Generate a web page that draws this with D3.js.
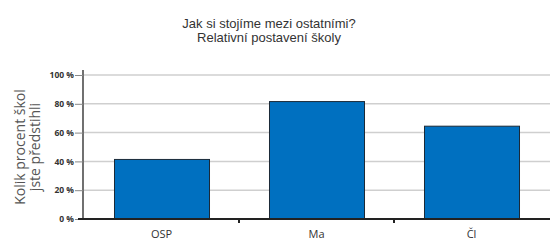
<!DOCTYPE html>
<html><head><meta charset="utf-8">
<script src="https://cdn.jsdelivr.net/npm/d3@7"></script>
<style>body{margin:0;background:#fff}svg{display:block}</style>
</head><body>
<svg id="c" width="550" height="240"></svg>
<script>
const categories = ["OSP", "Ma", "Čl"];
const values = [41.7, 81.9, 64.8];
const yTicks = [0, 20, 40, 60, 80, 100];
const titleLines = ["Jak si stojíme mezi ostatními?", "Relativní postavení školy"];
const yTitleLines = ["Kolik procent škol", "jste předstihli"];

const svg = d3.select("#c");
const L = 84, R = 549, T = 75, B = 219;

const x = d3.scaleBand().domain(categories).range([L, R]).paddingInner(0.387).paddingOuter(0.1935);
const y = d3.scaleLinear().domain([0, 100]).range([B, T]);

// gridlines
svg.append("g").selectAll("line").data(yTicks.filter(d => d > 0)).join("line")
  .attr("x1", L).attr("x2", 550).attr("y1", d => y(d)).attr("y2", d => y(d))
  .attr("stroke", "#cfcfcf").attr("stroke-width", 1.5);

// bars
svg.append("g").selectAll("rect").data(values).join("rect")
  .attr("x", (d, i) => x(categories[i]) + 0.5)
  .attr("y", d => y(d) + 0.5)
  .attr("width", x.bandwidth())
  .attr("height", d => B - y(d))
  .attr("fill", "#0070c0").attr("stroke", "#1c2a38").attr("stroke-width", 1);

// y axis
const yAxis = d3.axisLeft(y).tickValues(yTicks).tickFormat(d => d + " %").tickSize(8).tickPadding(1);
const gy = svg.append("g").attr("transform", `translate(${L - 1},0)`).call(yAxis);
gy.select(".domain").attr("stroke", "#111").attr("stroke-width", 1.2).attr("d", `M0,${T - 5}V${B}`);
gy.selectAll(".tick line").attr("stroke", "#888").attr("stroke-width", 1);
gy.selectAll(".tick text").attr("font-family", "'Open Sans', sans-serif").attr("font-size", 8.5)
  .attr("font-weight", "bold").attr("fill", "#333");

// x axis
const xAxis = d3.axisBottom(x).tickSize(0).tickPadding(11);
const gx = svg.append("g").attr("transform", `translate(0,${B})`).call(xAxis);
gx.select(".domain").attr("stroke", "#222").attr("stroke-width", 2).attr("d", `M${L - 6},0H550`);
gx.selectAll(".tick text").attr("font-family", "'Open Sans', sans-serif").attr("font-size", 11).attr("fill", "#333");
// band boundary ticks
const bounds = categories.slice(1).map(c => x(c) - x.step() * x.paddingInner() / 2);
gx.append("g").selectAll("line").data(bounds).join("line")
  .attr("x1", d => d).attr("x2", d => d).attr("y1", 0).attr("y2", 4)
  .attr("stroke", "#222").attr("stroke-width", 2);

// title
svg.append("text").attr("text-anchor", "middle")
  .attr("font-family", "'Liberation Sans Narrow', 'Liberation Sans', Arial, sans-serif").attr("font-size", 13).attr("fill", "#333")
  .selectAll("tspan").data(titleLines).join("tspan")
  .attr("x", 269).attr("y", (d, i) => 28 + i * 13.5).text(d => d);

// y title
svg.append("text").attr("transform", "translate(0,147) rotate(-90)").attr("text-anchor", "middle")
  .attr("font-family", "'Open Sans', sans-serif").attr("font-size", 14).attr("fill", "#555")
  .selectAll("tspan").data(yTitleLines).join("tspan")
  .attr("x", 0).attr("y", (d, i) => 25 + i * 15).text(d => d);
</script>
</body></html>
